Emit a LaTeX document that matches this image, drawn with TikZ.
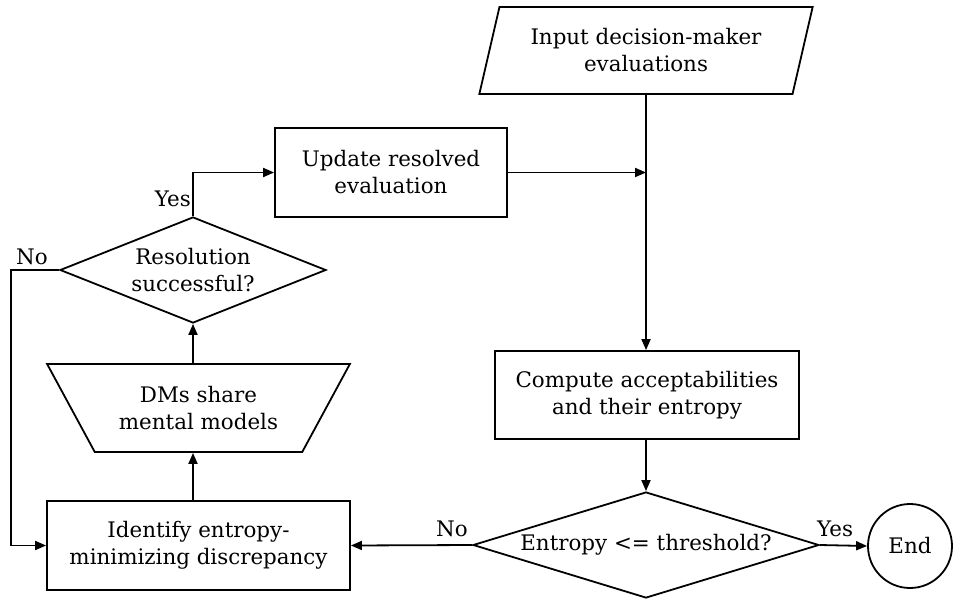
\documentclass[tikz,border=0pt]{standalone}
\usepackage{fontspec}
\setmainfont{DejaVu Serif}
\usetikzlibrary{shapes.geometric,arrows.meta}
\begin{document}
\begin{tikzpicture}[x=1pt,y=-1pt,
  every node/.style={font=\fontsize{21.4}{27}\selectfont, inner sep=0pt, align=center},
  shp/.style={draw, line width=1.8pt},
  arr/.style={-{Triangle[length=11pt,width=9pt]}, line width=1.8pt},
  lbl/.style={font=\fontsize{21.4}{27}\selectfont}]
\useasboundingbox (0,0) rectangle (962,600);
\node[shp, trapezium, trapezium left angle=70, trapezium right angle=110,
      trapezium stretches=true, minimum width=334pt, minimum height=87pt]
      (input) at (646,50.5) {Input decision-maker\\evaluations};
\node[shp, rectangle, minimum width=232pt, minimum height=89pt]
      (update) at (391,172.5) {Update resolved\\evaluation};
\node[shp, diamond, aspect=2.5, minimum width=266pt, minimum height=106pt]
      (res) at (193,270) {Resolution\\successful?};
\node[shp, trapezium, trapezium left angle=130, trapezium right angle=130,
      trapezium stretches=true, minimum width=303pt, minimum height=88pt]
      (dms) at (198.5,408) {DMs share\\mental models};
\node[shp, rectangle, minimum width=303pt, minimum height=89pt]
      (ident) at (198.5,545.5) {Identify entropy-\\minimizing discrepancy};
\node[shp, rectangle, minimum width=304pt, minimum height=88pt]
      (comp) at (647,395) {Compute acceptabilities\\and their entropy};
\node[shp, diamond, aspect=3.26, minimum width=346pt, minimum height=106pt]
      (ent) at (646,545) {Entropy <= threshold?};
\node[shp, circle, minimum size=84pt] (end) at (910,546) {End};
% connectors
\draw[arr] (input.south) -- (input.south |- comp.north);
\draw[arr] (update.east) -- (update.east -| input.south);
\draw[arr] (res.north) |- (update.west);
\draw[arr] (res.west) -- ++(-48,0) |- (ident.west);
\draw[arr] (ident.north -| res.south) -- (dms.south -| res.south);
\draw[arr] (dms.north -| res.south) -- (res.south);
\draw[arr] (comp.south -| ent.north) -- (ent.north);
\draw[arr] (ent.east) -- (end.west);
\draw[arr] (ent.west) -- (ident.east);
% labels
\node[lbl, anchor=east] (l1) at (191,199) {Yes};
\node[lbl] (l2) at (32,257) {No};
\node[lbl] (l3) at (452,529) {No};
\node[lbl] (l4) at (835,529) {Yes};
\end{tikzpicture}
\end{document}
